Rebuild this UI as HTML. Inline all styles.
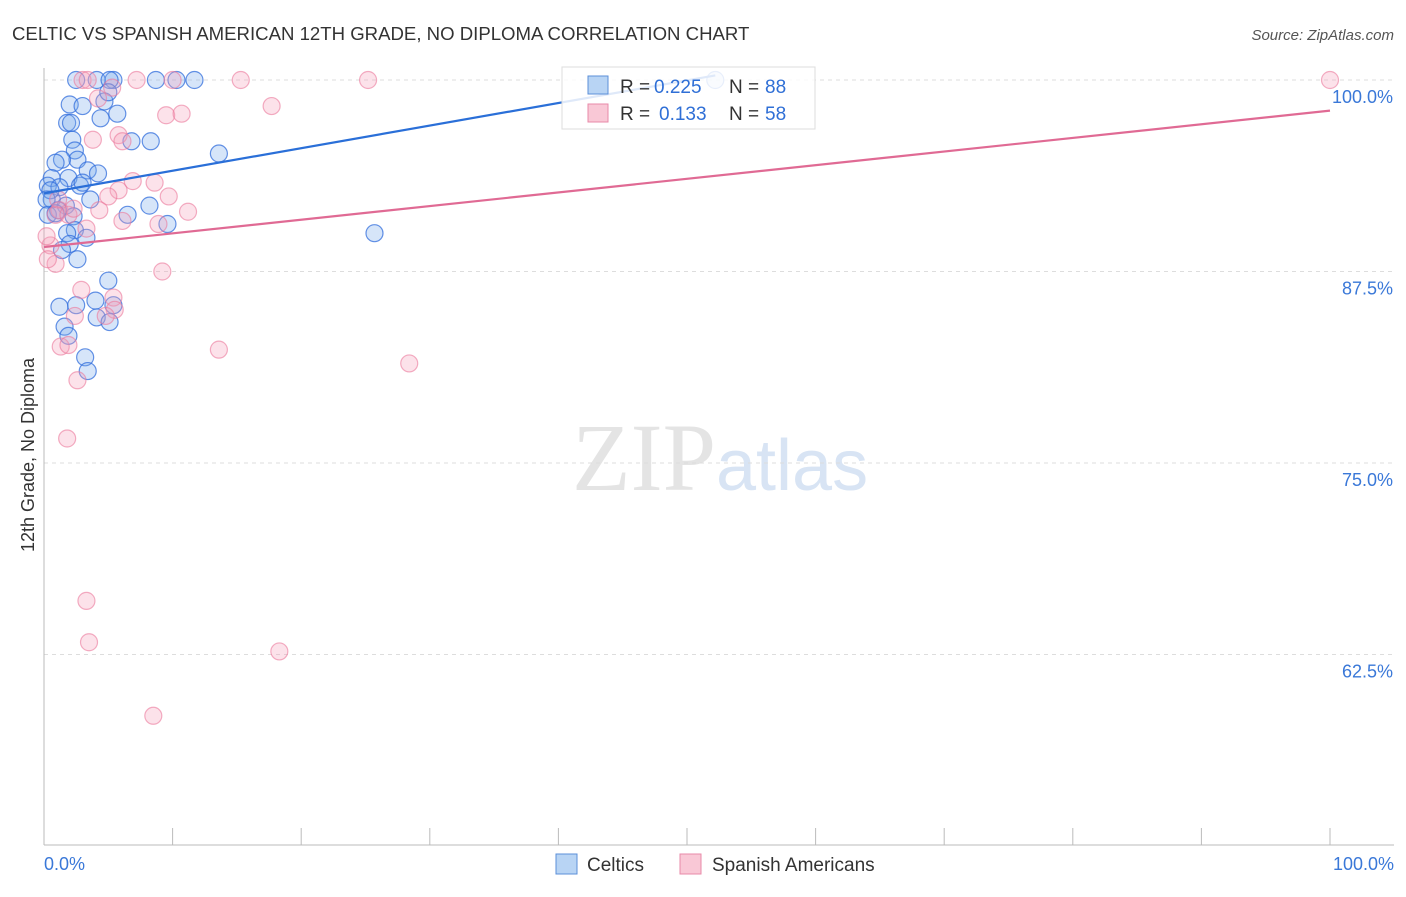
<!DOCTYPE html>
<html><head><meta charset="utf-8"><style>
body{margin:0;background:#fff;font-family:"Liberation Sans",sans-serif}
</style></head><body>
<svg width="1406" height="892" xmlns="http://www.w3.org/2000/svg">
<text x="12" y="40" font-size="18.6" fill="#333">CELTIC VS SPANISH AMERICAN 12TH GRADE, NO DIPLOMA CORRELATION CHART</text>
<text x="1394" y="40" font-size="15" fill="#555" font-style="italic" text-anchor="end">Source: ZipAtlas.com</text>
<text x="716" y="490" font-size="96" fill="#e4e4e4" font-family="Liberation Serif" text-anchor="end">ZIP</text>
<text x="716" y="490" font-size="72" fill="#d8e4f4">atlas</text>
<g id="grid"></g><g id="axes"></g><g id="pts"></g><g id="lines"></g>
<g>
<rect x="562" y="67" width="253" height="62" fill="#fff" fill-opacity="0.85" stroke="#ddd"/>
<rect x="588" y="76" width="20" height="18" fill="#b8d4f4" stroke="#5b8fd8"/>
<rect x="588" y="104" width="20" height="18" fill="#f9c8d6" stroke="#e88aa8"/>
<text x="620" y="93" font-size="19" fill="#333">R =</text>
<text x="654" y="93" font-size="19" fill="#2f6fd6">0.225</text>
<text x="729" y="93" font-size="19" fill="#333">N =</text>
<text x="765" y="93" font-size="19" fill="#2f6fd6">88</text>
<text x="620" y="120" font-size="19" fill="#333">R =</text>
<text x="659" y="120" font-size="19" fill="#2f6fd6">0.133</text>
<text x="729" y="120" font-size="19" fill="#333">N =</text>
<text x="765" y="120" font-size="19" fill="#2f6fd6">58</text>
</g>
<text x="34" y="455" font-size="18" fill="#333" transform="rotate(-90 34 455)" text-anchor="middle">12th Grade, No Diploma</text>
<text x="44" y="870" font-size="18" fill="#3a78d8">0.0%</text>
<text x="1394" y="870" font-size="18" fill="#3a78d8" text-anchor="end">100.0%</text>
<g>
<rect x="556" y="854" width="21" height="20" fill="#b8d4f4" stroke="#5b8fd8"/>
<text x="587" y="871" font-size="19" fill="#333">Celtics</text>
<rect x="680" y="854" width="21" height="20" fill="#f9c8d6" stroke="#e88aa8"/>
<text x="712" y="871" font-size="19" fill="#333">Spanish Americans</text>
</g>
</svg>
<script>
const yTicks=[100,87.5,75,62.5];
const yTickLabels=["100.0%","87.5%","75.0%","62.5%"];
const celticsX=[2.5,4.1,5.4,8.7,10.3,11.7,5.1,2.0,3.0,1.8,2.1,4.4,5.7,4.7,5.0,6.8,8.3,13.6,2.2,2.4,2.6,1.4,0.9,3.4,4.2,1.9,0.6,0.3,1.2,2.8,3.0,3.6,0.6,1.7,2.3,1.1,8.2,6.5,9.6,2.4,1.8,3.3,2.0,1.4,2.6,25.7,5.0,4.0,2.5,1.2,5.4,4.1,5.1,1.6,1.9,3.2,3.4,0.5,0.2,0.3,0.9,52.2];
const celticsY=[100,100,100,100,100,100,100,98.4,98.3,97.2,97.2,97.5,97.8,98.6,99.2,96.0,96.0,95.2,96.1,95.4,94.8,94.8,94.6,94.1,93.9,93.6,93.6,93.1,93.0,93.1,93.3,92.2,92.2,91.8,91.1,91.5,91.8,91.2,90.6,90.2,90.0,89.7,89.3,88.9,88.3,90.0,86.9,85.6,85.3,85.2,85.3,84.5,84.2,83.9,83.3,81.9,81.0,92.8,92.2,91.2,91.3,100];
const spanX=[3.0,3.4,7.2,10.0,15.3,25.2,100,17.7,9.5,10.7,5.3,4.2,5.8,6.1,3.8,6.9,8.6,9.7,5.8,5.0,4.3,6.1,8.9,11.2,1.2,0.9,1.9,2.3,0.5,0.9,9.2,2.9,5.4,5.5,2.4,4.8,1.3,1.9,13.6,28.4,2.6,1.8,3.3,3.5,18.3,8.5,0.2,0.3,1.1,3.3];
const spanY=[100,100,100,100,100,100,100,98.3,97.7,97.8,99.5,98.8,96.4,96.0,96.1,93.4,93.3,92.4,92.8,92.4,91.5,90.8,90.6,91.4,91.5,91.2,91.2,91.6,89.2,88.0,87.5,86.3,85.8,85.0,84.6,84.6,82.6,82.7,82.4,81.5,80.4,76.6,66.0,63.3,62.7,58.5,89.8,88.3,92.2,90.3];
const celticsTrend=[[0,92.6],[52.2,100.3]];
const spanTrend=[[0,89.1],[100,98.0]];
const NS="http://www.w3.org/2000/svg";
const X=v=>44+v*12.86, Y=v=>80+(100-v)*15.32;
function mk(t,a,p){const e=document.createElementNS(NS,t);for(const k in a)e.setAttribute(k,a[k]);document.getElementById(p).appendChild(e);return e;}
yTicks.forEach((t,i)=>{
 const l=mk('line',{x1:44,x2:1394,y1:Y(t),y2:Y(t),stroke:'#ddd','stroke-dasharray':'4,4'},'grid');
 
 
 const tx=mk('text',{x:1393,y:Y(t)+23,'font-size':18,fill:'#3a78d8','text-anchor':'end'},'grid');
 tx.textContent=yTickLabels[i];
 
 
});
let a=mk('line',{x1:44,x2:44,y1:68,y2:845,stroke:'#bbb'},'axes');


a=mk('line',{x1:44,x2:1394,y1:845,y2:845,stroke:'#bbb'},'axes');


for(let i=0;i<=10;i++){const t=mk('line',{x1:X(i*10),x2:X(i*10),y1:828,y2:845,stroke:'#bbb'},'axes');
 
 }
celticsX.forEach((x,i)=>{const c=mk('circle',{cx:X(x),cy:Y(celticsY[i]),r:8.5,fill:'rgba(120,170,235,0.3)',stroke:'rgba(50,110,220,0.75)','stroke-width':1.2},'pts');
 
 });
spanX.forEach((x,i)=>{const c=mk('circle',{cx:X(x),cy:Y(spanY[i]),r:8.5,fill:'rgba(245,160,185,0.3)',stroke:'rgba(235,120,155,0.6)','stroke-width':1.2},'pts');
 
 });
let l=mk('line',{x1:X(celticsTrend[0][0]),y1:Y(celticsTrend[0][1]),x2:X(celticsTrend[1][0]),y2:Y(celticsTrend[1][1]),stroke:'#2a6fd8','stroke-width':2.2},'lines');


l=mk('line',{x1:X(spanTrend[0][0]),y1:Y(spanTrend[0][1]),x2:X(spanTrend[1][0]),y2:Y(spanTrend[1][1]),stroke:'#e06a94','stroke-width':2.2},'lines');


</script>
</body></html>
